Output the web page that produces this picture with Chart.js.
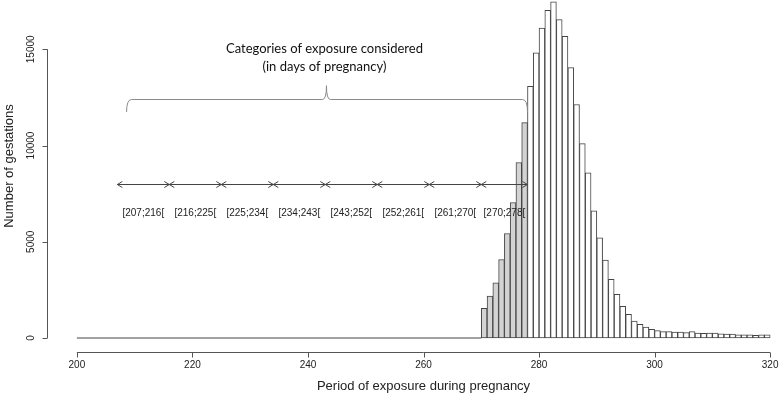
<!DOCTYPE html>
<html>
<head>
<meta charset="utf-8">
<script src="https://cdn.jsdelivr.net/npm/chart.js@4"></script>
<style>
  html, body { margin: 0; padding: 0; background: #fff; }
</style>
</head>
<body>
<canvas id="chart" width="784" height="401"></canvas>
<script>
// histogram bins (first day of each 1-day bin) and number of gestations
const days = [];
for (let d = 270; d < 320; d++) days.push(d);
const counts = [
  1540, 2180, 2870, 4080, 5430, 7040, 9120, 11190,
  13080, 14820, 16100, 17020, 17470, 16540, 15670, 14050, 12130, 10100,
  8580, 6610, 5200, 4050, 3050, 2270, 1640, 1230, 880, 710,
  570, 450, 380, 330, 330, 310, 310, 280, 330, 250,
  240, 250, 250, 220, 200, 200, 170, 170, 170, 140,
  170, 170
];
// empty bins before the first gestation in the sample
const emptyFrom = 200;
const emptyTo = 270;

// exposure categories (days of pregnancy)
const exposureBreaks = [207, 216, 225, 234, 243, 252, 261, 270, 278];
const exposureLabels = exposureBreaks.slice(0, -1).map((b, i) => '[' + b + ';' + exposureBreaks[i + 1] + '[');
const shadedFrom = 270;
const shadedTo = 278;

const xTicks = [200, 220, 240, 260, 280, 300, 320];
const yTicks = [0, 5000, 10000, 15000];

const titleLines = ['Categories of exposure considered', '(in days of pregnancy)'];

// drawing the R style axes + the annotations
const rAxes = {
  id: 'rAxes',
  afterDraw(chart) {
    const ctx = chart.ctx;
    const area = chart.chartArea;
    const x = chart.scales.x;
    const y = chart.scales.y;
    ctx.save();
    ctx.strokeStyle = '#555';
    ctx.lineWidth = 1;
    ctx.fillStyle = '#222';

    // x axis
    const ay = Math.round(area.bottom) + 0.5;
    ctx.beginPath();
    ctx.moveTo(x.getPixelForValue(xTicks[0]), ay);
    ctx.lineTo(x.getPixelForValue(xTicks[xTicks.length - 1]), ay);
    xTicks.forEach(t => {
      const px = Math.round(x.getPixelForValue(t)) + 0.5;
      ctx.moveTo(px, ay);
      ctx.lineTo(px, ay + 5);
    });
    ctx.stroke();
    ctx.font = '10px "Liberation Sans", Arial, sans-serif';
    ctx.textAlign = 'center';
    ctx.textBaseline = 'middle';
    xTicks.forEach(t => ctx.fillText(String(t), x.getPixelForValue(t), 365));
    ctx.font = '13px "Liberation Sans", Arial, sans-serif';
    ctx.fillText('Period of exposure during pregnancy', (x.getPixelForValue(200) + x.getPixelForValue(320)) / 2, 386);

    // y axis
    const axx = Math.round(area.left) - 0.5;
    ctx.beginPath();
    ctx.moveTo(axx, y.getPixelForValue(yTicks[0]));
    ctx.lineTo(axx, y.getPixelForValue(yTicks[yTicks.length - 1]));
    yTicks.forEach(t => {
      const py = Math.round(y.getPixelForValue(t)) + 0.5;
      ctx.moveTo(axx, py);
      ctx.lineTo(axx - 5, py);
    });
    ctx.stroke();
    ctx.font = '10px "Liberation Sans", Arial, sans-serif';
    yTicks.forEach(t => {
      ctx.save();
      ctx.translate(31, y.getPixelForValue(t));
      ctx.rotate(-Math.PI / 2);
      ctx.fillText(String(t), 0, 0);
      ctx.restore();
    });
    ctx.save();
    ctx.font = '13px "Liberation Sans", Arial, sans-serif';
    ctx.translate(9, 166);
    ctx.rotate(-Math.PI / 2);
    ctx.fillText('Number of gestations', 0, 0);
    ctx.restore();

    // arrows of the exposure categories
    const arrowY = Math.round(y.getPixelForValue(8000)) + 0.5;
    ctx.strokeStyle = '#444';
    const head = (px, dir) => {
      ctx.moveTo(px + dir * 5, arrowY - 3);
      ctx.lineTo(px, arrowY);
      ctx.lineTo(px + dir * 5, arrowY + 3);
    };
    ctx.beginPath();
    for (let i = 0; i < exposureBreaks.length - 1; i++) {
      const a = x.getPixelForValue(exposureBreaks[i]);
      const b = x.getPixelForValue(exposureBreaks[i + 1]);
      ctx.moveTo(a, arrowY);
      ctx.lineTo(b, arrowY);
      head(a, 1);
      head(b, -1);
    }
    ctx.stroke();
    ctx.font = '10px "Liberation Sans", Arial, sans-serif';
    const labY = y.getPixelForValue(6480);
    exposureLabels.forEach((lab, i) => {
      const mid = (exposureBreaks[i] + exposureBreaks[i + 1]) / 2;
      ctx.fillText(lab, x.getPixelForValue(mid), labY);
    });

    // brace
    const bl = x.getPixelForValue(208.6);
    const br = x.getPixelForValue(278);
    const bm = x.getPixelForValue(243.2);
    const by = Math.round(y.getPixelForValue(12440)) + 0.5;
    const bEnd = y.getPixelForValue(11740);
    const bTop = y.getPixelForValue(13110);
    ctx.strokeStyle = '#8a8a8a';
    ctx.beginPath();
    ctx.moveTo(bl, bEnd);
    ctx.quadraticCurveTo(bl, by, bl + 5, by);
    ctx.lineTo(bm - 4, by);
    ctx.quadraticCurveTo(bm, by, bm, bTop);
    ctx.quadraticCurveTo(bm, by, bm + 4, by);
    ctx.lineTo(br - 5, by);
    ctx.quadraticCurveTo(br, by, br, bEnd);
    ctx.stroke();

    ctx.font = '13px Lato, "Open Sans", sans-serif';
    ctx.fillStyle = '#111';
    ctx.fillText(titleLines[0], bm - 2, y.getPixelForValue(15000));
    ctx.fillText(titleLines[1], bm - 2, y.getPixelForValue(14080));
    ctx.restore();
  }
};

const ctx = document.getElementById('chart').getContext('2d');
new Chart(ctx, {
  type: 'bar',
  data: {
    datasets: [
      {
        type: 'bar',
        data: days.map((d, i) => ({ x: d + 0.5, y: counts[i] })),
        backgroundColor: days.map(d => (d >= shadedFrom && d < shadedTo) ? '#d3d3d3' : '#ffffff'),
        borderColor: '#444',
        borderWidth: 1,
        borderSkipped: false,
        barPercentage: 1,
        categoryPercentage: 1
      },
      {
        type: 'line',
        data: [{ x: emptyFrom, y: 0 }, { x: emptyTo, y: 0 }],
        borderColor: '#444',
        borderWidth: 1,
        pointRadius: 0,
        fill: false
      }
    ]
  },
  options: {
    responsive: false,
    animation: false,
    layout: { padding: { left: 48, right: 0, top: 0, bottom: 49 } },
    plugins: { legend: { display: false }, tooltip: { enabled: false } },
    scales: {
      x: { type: 'linear', min: 195, max: 322.4, offset: false, display: false },
      y: { type: 'linear', min: -727, max: 17561, display: false }
    }
  },
  plugins: [rAxes]
});
</script>
</body>
</html>
